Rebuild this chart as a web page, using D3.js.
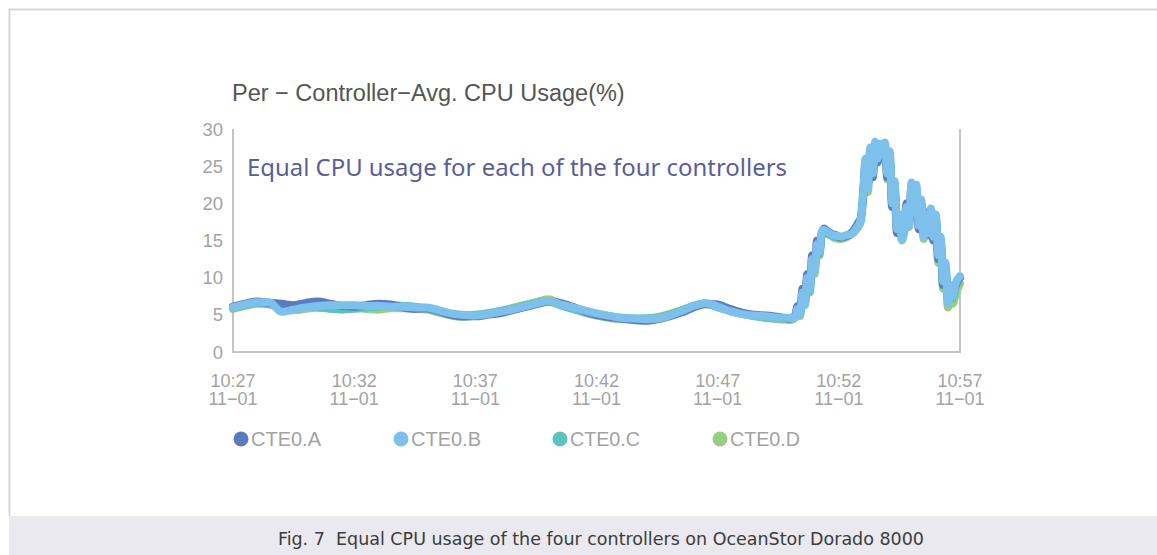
<!DOCTYPE html>
<html lang="en">
<head>
    <meta charset="UTF-8">
    <title>CPU Usage</title>
    <script src="https://cdn.jsdelivr.net/npm/d3@7"></script>
    <style>
        body { margin: 0; background: #fff; }
    </style>
</head>
<body>

<script>
    var width = 1157;
    var height = 555;

    // minutes after 10:27 on 11-01
    var minutes = [0,0.5,1,1.5,2,2.5,3,3.5,4,4.5, 5,5.5,6,6.5,7,7.5,8,8.5,9,9.5,
        10,10.5,11,11.5,12,12.5,13,13.5,14,14.5, 15,15.5,16,16.5,17,17.5,18,18.5,19,19.5,
        20,20.5,21,21.5,22,22.5,23,
        23.1,23.2,23.3,23.4,23.5,23.6,23.7,23.8,23.9,24.0, 24.1,24.2,24.3,24.4,24.5,24.6,24.7,24.8,24.9,25.0,
        25.1,25.2,25.3,25.4,25.5,25.6,25.7,25.8,25.9,26.0, 26.1,26.2,26.3,26.4,26.5,26.6,26.7,26.8,26.9,27.0,
        27.1,27.2,27.3,27.4,27.5,27.6,27.7,27.8,27.9,28.0, 28.1,28.2,28.3,28.4,28.5,28.6,28.7,28.8,28.9,29.0,
        29.1,29.2,29.3,29.4,29.5,29.6,29.7,29.8,29.9,30.0];

    var cte0A = [6.1,6.5,6.8,6.6,6.5,6.3,6.6,6.8,6.5,6.2, 6.1,6.3,6.5,6.4,6.0,5.8,5.9,5.5,5.0,4.8,
        4.8,5.0,5.2,5.6,6.0,6.4,6.8,6.6,6.1,5.5, 5.0,4.7,4.5,4.3,4.2,4.4,4.8,5.3,6.0,6.5,
        6.4,5.8,5.3,5.0,4.9,4.7,4.5,
        4.6,4.9,6.2,5.3,8.5,7.0,10.5,8.8,13.0,11.5, 15.0,13.8,16.0,16.6,16.3,16.1,15.9,15.8,15.7,15.5,
        15.4,15.5,15.6,15.7,16.0,16.3,16.8,17.4,18.0,20.5, 25.5,22.5,27.0,23.5,28.0,25.5,27.8,26.5,27.8,23.5,
        26.5,19.5,22.0,16.0,18.0,15.5,17.0,20.0,17.5,22.5, 18.5,22.0,16.5,20.0,16.0,18.8,15.8,19.0,15.0,18.0,
        12.5,15.0,9.0,11.5,7.0,8.5,7.8,8.8,9.5,10.0];

    var cte0B = [6.0,6.4,6.7,6.7,5.4,5.7,6.0,6.2,6.3,6.3, 6.3,6.2,6.2,6.1,6.1,6.0,6.0,5.6,5.2,5.0,
        4.9,5.1,5.4,5.7,6.1,6.5,6.9,6.4,6.0,5.6, 5.2,4.9,4.6,4.5,4.4,4.5,4.9,5.5,6.2,6.6,
        6.1,5.5,5.1,4.9,4.8,4.6,4.6,
        4.5,4.7,5.8,5.0,8.0,6.5,10.0,8.5,12.5,11.0, 14.5,13.5,16.3,16.4,16.2,16.0,15.8,15.7,15.6,15.6,
        15.5,15.6,15.7,15.8,15.9,16.1,16.5,17.0,17.8,21.0, 26.0,22.0,27.5,24.0,28.3,26.0,28.0,27.0,28.2,24.0,
        27.0,20.0,23.0,16.5,18.5,15.2,16.5,19.5,17.0,22.8, 19.0,22.5,17.0,20.5,15.5,18.5,16.0,19.3,15.5,18.5,
        13.0,15.5,9.5,12.0,6.5,9.0,7.5,9.0,9.8,10.2];

    var cte0C = [5.9,6.3,6.6,6.4,6.0,5.9,6.1,6.0,5.8,5.7, 5.8,6.0,6.1,6.3,6.2,6.1,5.8,5.4,5.1,4.9,
        5.0,5.2,5.5,5.8,6.2,6.6,6.8,6.3,5.8,5.4, 5.0,4.8,4.6,4.5,4.5,4.6,5.0,5.6,6.2,6.5,
        6.0,5.6,5.2,4.9,4.6,4.5,4.5,
        4.7,4.8,6.0,5.4,7.8,6.8,10.2,8.2,12.0,11.2, 14.2,13.2,16.0,16.2,16.0,15.8,15.7,15.5,15.4,15.4,
        15.4,15.5,15.6,15.8,15.9,16.2,16.6,17.2,17.6,21.5, 25.0,22.5,27.2,24.5,27.8,26.0,27.5,27.0,27.6,24.5,
        26.0,20.5,22.5,17.0,17.5,15.8,16.2,19.0,17.5,22.0, 19.5,21.8,17.5,20.0,16.0,18.0,16.5,18.8,16.0,18.2,
        13.5,15.0,10.0,11.5,7.0,8.5,7.2,8.5,9.6,10.0];

    var cte0D = [5.8,6.2,6.5,6.5,6.2,5.6,5.8,6.0,5.9,5.8, 5.9,5.8,5.7,5.9,5.9,5.8,5.7,5.3,4.9,4.7,
        4.9,5.2,5.5,5.9,6.3,6.7,7.1,6.5,5.9,5.3, 4.9,4.6,4.4,4.4,4.5,4.7,5.1,5.6,6.1,6.4,
        6.2,5.7,5.2,4.8,4.6,4.4,4.3,
        4.4,4.6,5.6,4.8,7.5,6.3,9.6,8.0,12.0,10.5, 14.0,13.0,15.8,16.0,16.0,15.8,15.6,15.4,15.3,15.2,
        15.2,15.3,15.4,15.6,15.8,16.0,16.4,16.8,17.5,20.8, 25.2,21.5,27.0,23.5,27.6,25.5,27.5,26.8,27.6,23.2,
        25.5,19.5,22.0,16.2,17.2,15.0,16.2,19.2,16.8,22.0, 18.8,22.0,16.8,20.0,15.2,18.2,15.6,18.6,15.2,17.8,
        12.0,14.5,8.5,10.5,6.0,7.2,6.5,7.5,8.5,9.2];

    var seriesNames = ["CTE0.A", "CTE0.B", "CTE0.C", "CTE0.D"];
    var seriesColors = ["#5b7bc1", "#7cc0eb", "#5ec3bc", "#97cf7f"];
    var yTicks = [0, 5, 10, 15, 20, 25, 30];
    var xTickMinutes = [0, 5, 10, 15, 20, 25, 30];

    var start = new Date(2020, 10, 1, 10, 27);
    function toDate(m) { return new Date(start.getTime() + m * 60000); }

    var svg = d3.select("body")
        .append("svg")
        .attr("width", width)
        .attr("height", height);

    // frame and caption band
    svg.append("path")
        .attr("d", "M9.5,516 V9.5 H1157")
        .attr("fill", "none")
        .attr("stroke", "#d6d6d6")
        .attr("stroke-width", 2);
    svg.append("rect")
        .attr("x", 9).attr("y", 516)
        .attr("width", width - 9).attr("height", height - 516)
        .attr("fill", "#e9e9ef");
    svg.append("text")
        .attr("x", 601).attr("y", 545)
        .attr("text-anchor", "middle")
        .attr("font-family", "DejaVu Sans Condensed, DejaVu Sans")
        .attr("font-size", 18)
        .attr("fill", "#3c3c3c")
        .attr("textLength", 646)
        .attr("lengthAdjust", "spacingAndGlyphs")
        .style("white-space", "pre")
        .text("Fig. 7  Equal CPU usage of the four controllers on OceanStor Dorado 8000");

    var x = d3.scaleTime()
        .domain([toDate(0), toDate(30)])
        .range([233, 960]);
    var y = d3.scaleLinear()
        .domain([0, 30])
        .range([352, 129]);

    // title
    svg.append("text")
        .attr("x", 232).attr("y", 101)
        .attr("font-family", "Liberation Sans, Arial")
        .attr("font-size", 23.5)
        .attr("fill", "#555")
        .text("Per \u2212 Controller\u2212Avg. CPU Usage(%)");

    // axes frame
    var axisColor = "#c4c4c4";
    svg.append("path")
        .attr("d", "M233," + y(30) + " V352 H960 V" + y(30))
        .attr("fill", "none")
        .attr("stroke", axisColor)
        .attr("stroke-width", 2);

    // y labels
    svg.selectAll(".ylab")
        .data(yTicks)
        .enter()
        .append("text")
        .attr("class", "ylab")
        .attr("x", 223)
        .attr("y", function (d) { return y(d) + 6.5; })
        .attr("text-anchor", "end")
        .attr("font-family", "Liberation Sans, Arial")
        .attr("font-size", 18.5)
        .attr("fill", "#a3a3a3")
        .text(function (d) { return d; });

    // x labels, two lines
    var fmt = d3.timeFormat("%H:%M");
    var xg = svg.selectAll(".xlab")
        .data(xTickMinutes)
        .enter()
        .append("g")
        .attr("class", "xlab")
        .attr("transform", function (d) { return "translate(" + x(toDate(d)) + ",0)"; });
    xg.append("text")
        .attr("y", 387)
        .attr("text-anchor", "middle")
        .attr("font-family", "Liberation Sans, Arial")
        .attr("font-size", 18)
        .attr("fill", "#a3a3a3")
        .text(function (d) { return fmt(toDate(d)); });
    xg.append("text")
        .attr("y", 405)
        .attr("text-anchor", "middle")
        .attr("font-family", "Liberation Sans, Arial")
        .attr("font-size", 18)
        .attr("fill", "#a3a3a3")
        .text("11\u221201");

    // annotation
    svg.append("text")
        .attr("x", 247).attr("y", 176)
        .attr("font-family", "Noto Sans, Open Sans")
        .attr("font-size", 23.5)
        .attr("fill", "#5a5e98")
        .attr("textLength", 540)
        .attr("lengthAdjust", "spacingAndGlyphs")
        .text("Equal CPU usage for each of the four controllers");

    // lines
    var allSeries = [cte0A, cte0B, cte0C, cte0D];
    var line = d3.line()
        .x(function (d, i) { return x(toDate(minutes[i])); })
        .y(function (d) { return y(d); })
        .curve(d3.curveMonotoneX);

    var drawOrder = [3, 2, 0, 1];
    svg.selectAll(".series")
        .data(drawOrder)
        .enter()
        .append("path")
        .attr("class", "series")
        .attr("d", function (k) { return line(allSeries[k]); })
        .attr("fill", "none")
        .attr("stroke", function (k) { return seriesColors[k]; })
        .attr("stroke-width", 8)
        .attr("stroke-linejoin", "round")
        .attr("stroke-linecap", "round");

    // legend
    var legendX = [241, 401, 560, 720];
    var lg = svg.selectAll(".legend")
        .data(seriesNames)
        .enter()
        .append("g")
        .attr("class", "legend")
        .attr("transform", function (d, i) { return "translate(" + legendX[i] + ",439)"; });
    lg.append("circle")
        .attr("r", 7.5)
        .attr("fill", function (d, i) { return seriesColors[i]; });
    lg.append("text")
        .attr("x", 10)
        .attr("y", 7)
        .attr("font-family", "Liberation Sans, Arial")
        .attr("font-size", 20)
        .attr("fill", "#a3a3a3")
        .attr("textLength", 70)
        .attr("lengthAdjust", "spacingAndGlyphs")
        .text(function (d) { return d; });
</script>
</body>
</html>
